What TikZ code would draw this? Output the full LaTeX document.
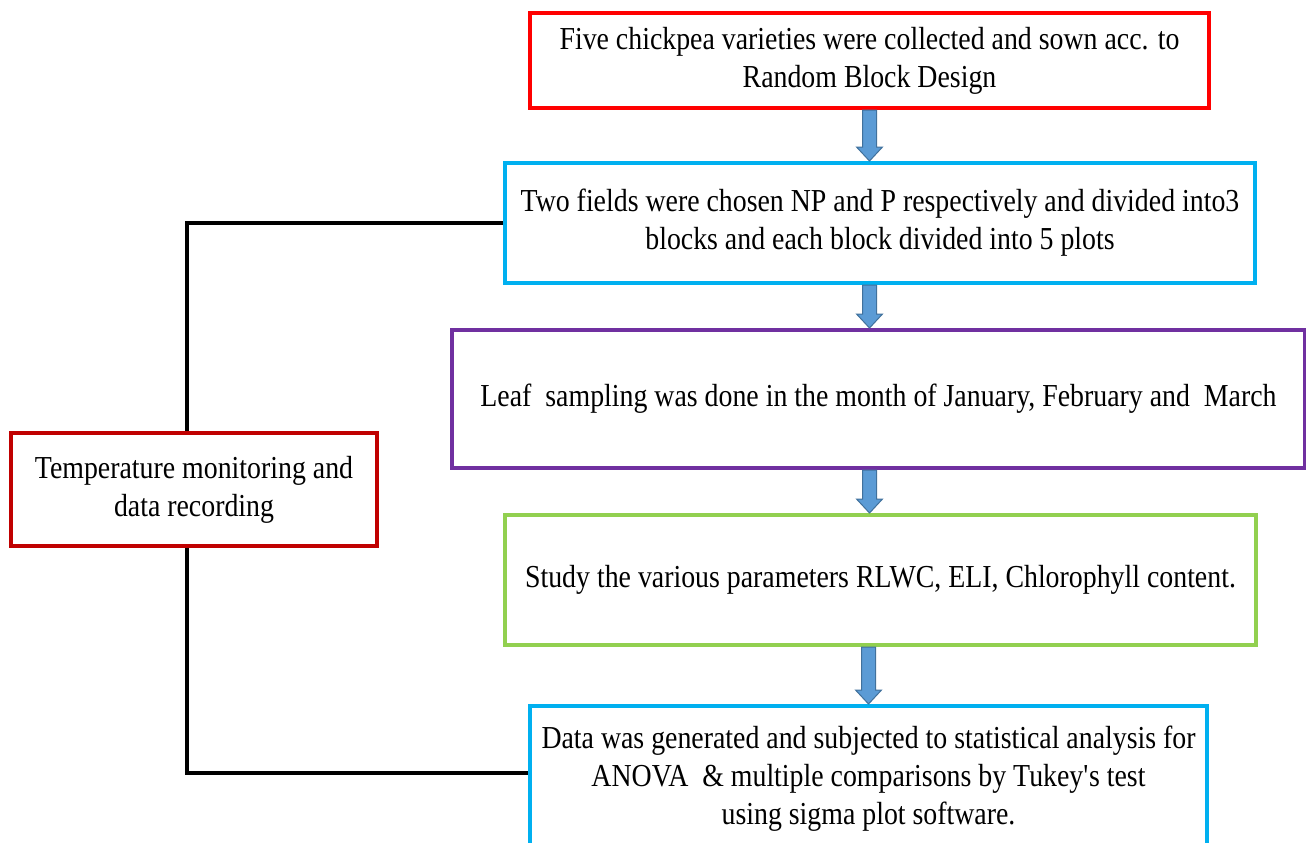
\documentclass[tikz,border=0pt]{standalone}
\usepackage{fontspec}
\setmainfont[FakeStretch=0.87]{Liberation Serif}
\usetikzlibrary{calc}

\definecolor{boxred}{RGB}{255,0,0}
\definecolor{boxdarkred}{RGB}{192,0,0}
\definecolor{boxcyan}{RGB}{0,176,240}
\definecolor{boxpurple}{RGB}{112,48,160}
\definecolor{boxgreen}{RGB}{146,208,80}
\definecolor{arrowfill}{RGB}{91,155,213}
\definecolor{arrowedge}{RGB}{65,113,156}

\tikzset{
    stepbox/.style={draw, line width=4pt, fill=white, align=center, inner sep=0pt,
        font=\fontsize{32}{38}\selectfont},
    link/.style={draw=black, line width=4pt},
    bigarrow/.style={fill=arrowfill, draw=arrowedge, line width=1pt, line join=miter}
}

% block arrow from #1 (top) down to #2 (bottom)
\newcommand{\blockarrow}[2]{%
    \path[bigarrow] let \p1=(#1), \p2=(#2) in
        (\x1-7pt,\y1) -- (\x1+7pt,\y1) -- (\x1+7pt,\y2+14pt) -- (\x1+13pt,\y2+14pt)
        -- (\x1,\y2) -- (\x1-13pt,\y2+14pt) -- (\x1-7pt,\y2+14pt) -- cycle;}

\begin{document}
\begin{tikzpicture}[x=1pt, y=-1pt, every node/.style={anchor=center}]
        \clip (0,0) rectangle (1306,843);
        \fill[white] (0,0) rectangle (1306,843);

        % Steps
        \node[stepbox, draw=boxred, minimum width=679, minimum height=95] (b1) at (869.5,60.5)
            {Five chickpea varieties were collected and sown acc. to\\Random Block Design};
        \node[stepbox, draw=boxcyan, minimum width=750, minimum height=120] (b2) at (880,223)
            {Two fields were chosen NP and P respectively and divided into3\\blocks and each block divided into 5 plots};
        \node[stepbox, draw=boxpurple, minimum width=853, minimum height=138] (b3) at (878.5,399)
            {Leaf \ sampling was done in the month of January, February and \ March};
        \node[stepbox, draw=boxgreen, minimum width=751, minimum height=130] (b4) at (880.5,580)
            {Study the various parameters RLWC, ELI, Chlorophyll content.};
        \node[stepbox, draw=boxcyan, minimum width=677, minimum height=146] (b5) at (868.5,779)
            {Data was generated and subjected to statistical analysis for\\ANOVA \ \& multiple comparisons by Tukey\textquotesingle s test\\using sigma plot software.};

        % Side box
        \node[stepbox, draw=boxdarkred, minimum width=366, minimum height=113] (temp) at (194,489.5)
            {Temperature monitoring and\\data recording};

        % Lines to the side box
        \draw[link] (b2.west) -| ([xshift=-7pt]temp.north);
        \draw[link] ([xshift=-7pt]temp.south) |- ([yshift=6pt]b5.west);

        % Arrows between steps
        \blockarrow{b1.south}{b2.north -| b1.south}
        \blockarrow{b2.south -| b1.south}{b3.north -| b1.south}
        \blockarrow{b3.south -| b1.south}{b4.north -| b1.south}
        \blockarrow{b4.south -| b5.south}{b5.north}
    \end{tikzpicture}
\end{document}
